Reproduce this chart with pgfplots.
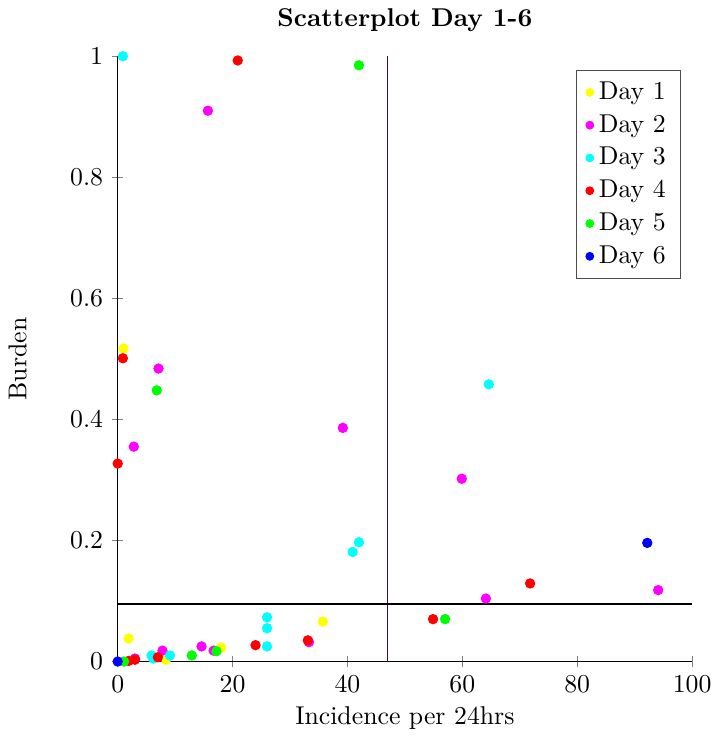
\documentclass[border=0pt]{standalone}
\usepackage{pgfplots}
\pgfplotsset{compat=1.18}
\definecolor{vline}{RGB}{60,15,45}
\definecolor{cY}{RGB}{255,255,0}
\definecolor{cM}{RGB}{255,0,255}
\definecolor{cC}{RGB}{0,255,255}
\definecolor{cR}{RGB}{255,0,0}
\definecolor{cG}{RGB}{0,255,0}
\definecolor{cB}{RGB}{0,0,255}
\begin{document}
\begin{tikzpicture}
\begin{axis}[
  scale only axis,
  width=223pt, height=235pt,
  xmin=0, xmax=100, ymin=0, ymax=1,
  axis lines=left,
  axis line style={-},
  clip=false,
  xtick={0,20,40,60,80,100},
  ytick={0,0.2,0.4,0.6,0.8,1},
  title={\textbf{Scatterplot Day 1-6}},
  xlabel={Incidence per 24hrs},
  ylabel={Burden},
  ylabel shift=10pt,
  xlabel shift=-1.5pt,
  legend cell align=left,
  legend style={at={(0.981,0.978)}, anchor=north east, draw=black!70, inner xsep=3.8pt, inner ysep=2.5pt, row sep=0.4pt},
  legend image post style={mark size=1.5pt},
  every axis plot/.append style={only marks, mark=*, mark size=1.8pt},
]
\addplot[forget plot, vline, no markers, only marks=false, line width=0.5pt, sharp plot] coordinates {(47,0) (47,1)};
\addplot[forget plot, black, no markers, only marks=false, line width=0.5pt, sharp plot] coordinates {(0,0.095) (100,0.095)};
% Day 1
\addplot[color=cY, mark options={fill=cY}] coordinates {
(1.0,0.517) (1.9,0.038) (18.0,0.023) (35.7,0.066) (8.4,0.003)
};
\addlegendentry{Day 1}
% Day 2
\addplot[color=cM, mark options={fill=cM}] coordinates {
(15.7,0.910) (7.1,0.484) (2.8,0.355) (39.2,0.386) (59.9,0.302) (64.1,0.104)
(94.1,0.118) (14.6,0.025) (7.8,0.018) (16.7,0.018) (33.3,0.032) (3.0,0.005)
};
\addlegendentry{Day 2}
% Day 3
\addplot[color=cC, mark options={fill=cC}] coordinates {
(0.9,1.0) (64.6,0.458) (42.0,0.197) (40.9,0.181) (26.0,0.073) (26.0,0.055)
(26.0,0.025) (5.9,0.010) (6.2,0.005) (9.1,0.010)
};
\addlegendentry{Day 3}
% Day 4
\addplot[color=cR, mark options={fill=cR}] coordinates {
(20.9,0.993) (0.9,0.501) (0,0.327) (71.8,0.129) (54.9,0.070) (33.1,0.035)
(24.0,0.027) (7.0,0.007) (1.9,0.001) (3.0,0.003)
};
\addlegendentry{Day 4}
% Day 5
\addplot[color=cG, mark options={fill=cG}] coordinates {
(42.0,0.985) (6.8,0.448) (57.0,0.070) (12.9,0.010) (17.2,0.017) (1.1,0.0)
};
\addlegendentry{Day 5}
% Day 6
\addplot[color=cB, mark options={fill=cB}] coordinates {
(92.2,0.196) (0,0)
};
\addlegendentry{Day 6}
\end{axis}
\end{tikzpicture}
\end{document}
